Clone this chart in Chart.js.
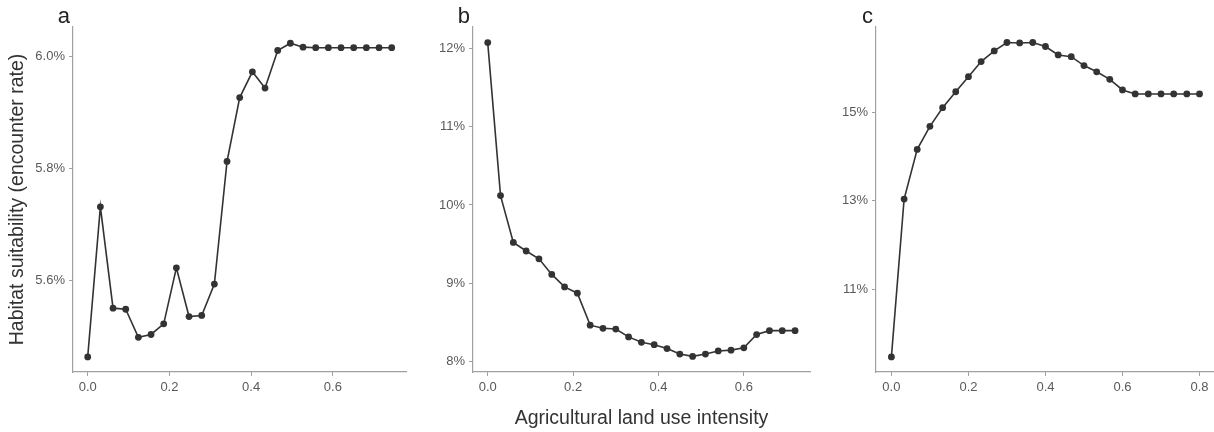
<!DOCTYPE html>
<html>
<head>
<meta charset="utf-8">
<script src="https://cdn.jsdelivr.net/npm/chart.js@4"></script>
<style>
    body { margin: 0; background: #fff; font-family: "Liberation Sans", Arial, sans-serif; }
    .panel { position: absolute; top: 0; height: 432px; }
</style>
</head>
<body>
<div class="panel" style="left:0;width:420px"><canvas id="chartA"></canvas></div>
<div class="panel" style="left:420px;width:420px"><canvas id="chartB"></canvas></div>
<div class="panel" style="left:840px;width:374px"><canvas id="chartC"></canvas></div>
<script>
// land use intensity (x) for each panel
const intensityA = [0, 0.031, 0.062, 0.093, 0.124, 0.155, 0.186, 0.217, 0.248, 0.279, 0.31, 0.341, 0.372,
    0.403, 0.434, 0.465, 0.496, 0.527, 0.558, 0.589, 0.62, 0.651, 0.682, 0.713, 0.744];
const intensityB = [0, 0.03, 0.06, 0.09, 0.12, 0.15, 0.18, 0.21, 0.24, 0.27, 0.3, 0.33, 0.36,
    0.39, 0.42, 0.45, 0.48, 0.51, 0.54, 0.57, 0.6, 0.63, 0.66, 0.69, 0.72];
const intensityC = [0, 0.033, 0.067, 0.1, 0.133, 0.167, 0.2, 0.233, 0.267, 0.3, 0.333, 0.367, 0.4,
    0.433, 0.467, 0.5, 0.533, 0.567, 0.6, 0.633, 0.667, 0.7, 0.733, 0.767, 0.8];

// habitat suitability (%)
const suitabilityA = [5.464, 5.732, 5.551, 5.549, 5.499, 5.504, 5.523, 5.623, 5.536, 5.538, 5.594, 5.813, 5.927,
    5.973, 5.944, 6.011, 6.024, 6.017, 6.016, 6.016, 6.016, 6.016, 6.016, 6.016, 6.016];
const suitabilityB = [12.08, 10.12, 9.52, 9.41, 9.31, 9.11, 8.95, 8.87, 8.46, 8.42, 8.41, 8.31, 8.24,
    8.21, 8.16, 8.09, 8.06, 8.09, 8.13, 8.14, 8.17, 8.34, 8.39, 8.39, 8.39];
const suitabilityC = [9.48, 13.04, 14.16, 14.68, 15.10, 15.46, 15.80, 16.14, 16.38, 16.57, 16.56, 16.57, 16.48,
    16.29, 16.25, 16.05, 15.91, 15.74, 15.50, 15.41, 15.41, 15.41, 15.41, 15.41, 15.41];

const xTicksAB = [0, 0.2, 0.4, 0.6];
const xTicksC = [0, 0.2, 0.4, 0.6, 0.8];
const yTicksA = [5.6, 5.8, 6.0];
const yTicksB = [8, 9, 10, 11, 12];
const yTicksC = [11, 13, 15];

const AXIS_GREY = '#a0a0a0';
const TICK_TEXT = '#5a5a5a';
const INK = '#333333';
const FONT = '"Liberation Sans", Arial, sans-serif';

// draws the panel letter just left of the top of the y axis
const panelLetter = {
    id: 'panelLetter',
    afterDraw(chart, args, opts) {
        const ctx = chart.ctx;
        ctx.save();
        ctx.font = '22px ' + FONT;
        ctx.fillStyle = '#222';
        ctx.textAlign = 'right';
        ctx.textBaseline = 'alphabetic';
        ctx.fillText(opts.text, chart.chartArea.left - 3, 23);
        ctx.restore();
    }
};

function makePanel(canvasId, opts) {
    const ctx = document.getElementById(canvasId).getContext('2d');
    return new Chart(ctx, {
        type: 'line',
        data: {
            datasets: [{
                data: opts.x.map((v, i) => ({ x: v, y: opts.y[i] })),
                borderColor: INK,
                backgroundColor: INK,
                borderWidth: 1.6,
                pointRadius: 3.4,
                pointBorderWidth: 0,
                tension: 0
            }]
        },
        options: {
            responsive: true,
            maintainAspectRatio: false,
            animation: false,
            layout: { autoPadding: false, padding: { top: 27, right: opts.padRight, left: 0, bottom: 0 } },
            plugins: {
                legend: { display: false },
                tooltip: { enabled: false },
                panelLetter: { text: opts.letter }
            },
            scales: {
                x: {
                    type: 'linear',
                    min: opts.xMin,
                    max: opts.xMax,
                    afterBuildTicks: (scale) => { scale.ticks = opts.xTicks.map(v => ({ value: v })); },
                    afterFit: (scale) => { scale.height = 60; },
                    grid: { drawOnChartArea: false, drawTicks: true, tickLength: 4, color: AXIS_GREY },
                    border: { display: true, color: AXIS_GREY, width: 1.2 },
                    ticks: {
                        color: TICK_TEXT,
                        padding: 4,
                        font: { size: 13, family: FONT },
                        callback: (v) => Number(v).toFixed(1)
                    },
                    title: {
                        display: !!opts.xTitle,
                        text: opts.xTitle || '',
                        color: '#333',
                        font: { size: 19.5, family: FONT },
                        padding: { top: 0, bottom: 2 }
                    }
                },
                y: {
                    min: opts.yMin,
                    max: opts.yMax,
                    afterBuildTicks: (scale) => { scale.ticks = opts.yTicks.map(v => ({ value: v })); },
                    afterFit: (scale) => { scale.width = opts.yWidth; },
                    grid: { drawOnChartArea: false, drawTicks: true, tickLength: 4, color: AXIS_GREY },
                    border: { display: true, color: AXIS_GREY, width: 1.2 },
                    ticks: {
                        color: TICK_TEXT,
                        padding: 4,
                        font: { size: 13, family: FONT },
                        callback: opts.yFormat
                    },
                    title: {
                        display: !!opts.yTitle,
                        text: opts.yTitle || '',
                        color: '#333',
                        font: { size: 19.5, family: FONT },
                        padding: { top: 6, bottom: 0 }
                    }
                }
            }
        },
        plugins: [panelLetter]
    });
}

document.addEventListener('DOMContentLoaded', () => {
    makePanel('chartA', {
        letter: 'a', x: intensityA, y: suitabilityA,
        xMin: -0.036, xMax: 0.779, xTicks: xTicksAB,
        yMin: 5.437, yMax: 6.053, yTicks: yTicksA,
        yFormat: (v) => Number(v).toFixed(1) + '%',
        yWidth: 73, padRight: 14,
        yTitle: 'Habitat suitability (encounter rate)'
    });
    makePanel('chartB', {
        letter: 'b', x: intensityB, y: suitabilityB,
        xMin: -0.0345, xMax: 0.755, xTicks: xTicksAB,
        yMin: 7.86, yMax: 12.28, yTicks: yTicksB,
        yFormat: (v) => v + '%',
        yWidth: 53, padRight: 30,
        xTitle: 'Agricultural land use intensity'
    });
    makePanel('chartC', {
        letter: 'c', x: intensityC, y: suitabilityC,
        xMin: -0.04, xMax: 0.835, xTicks: xTicksC,
        yMin: 9.14, yMax: 16.92, yTicks: yTicksC,
        yFormat: (v) => v + '%',
        yWidth: 36, padRight: 1
    });
});
</script>
</body>
</html>
